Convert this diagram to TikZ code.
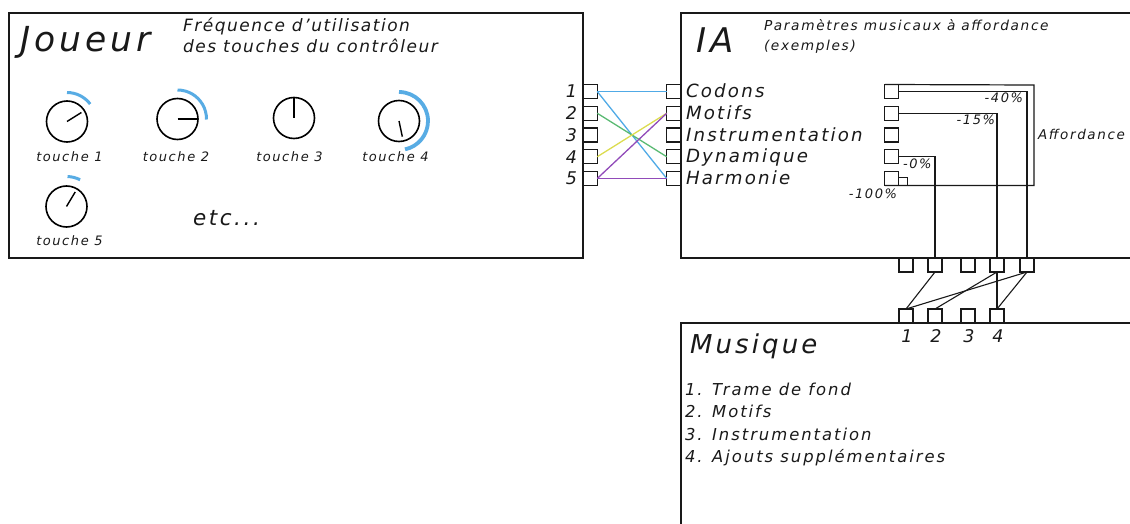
\documentclass[tikz,border=0pt]{standalone}
\usepackage{fontspec}
\newfontfamily\vf{DejaVu Sans Oblique}[LetterSpace=12]
\newfontfamily\vfn{DejaVu Sans Oblique}[LetterSpace=9]
\definecolor{kblue}{RGB}{88,172,228}
\definecolor{cblue}{RGB}{80,170,230}
\definecolor{cgreen}{RGB}{90,186,115}
\definecolor{cyellow}{RGB}{220,220,80}
\definecolor{cpurple}{RGB}{145,75,185}
\definecolor{ink}{RGB}{25,25,25}
\tikzset{
  box/.style={draw=ink, line width=1.4pt},
  sq/.style={draw=ink, line width=1.1pt, minimum width=13.5pt, minimum height=14pt, inner sep=0pt, outer sep=0pt},
  bsq/.style={sq, minimum width=14pt},
  txt/.style={inner sep=0pt, outer sep=0pt, text=ink},
  knob/.style={draw=black, line width=1.6pt, circle, minimum size=41pt, inner sep=0pt, outer sep=0pt},
  needle/.style={line width=1.4pt, draw=black},
  arcb/.style={draw=kblue, line width=3pt},
  lk/.style={line width=1.2pt, draw=ink},
  cl/.style={line width=1.3pt},
  fB/.style={font=\vfn\fontsize{17}{20}\selectfont},
  fC/.style={font=\vf\fontsize{13}{16}\selectfont},
  fD/.style={font=\vf\fontsize{18.2}{21}\selectfont},
  fE/.style={font=\vf\fontsize{16.4}{19}\selectfont},
}
\begin{document}
\begin{tikzpicture}[x=1pt,y=-1pt]
\useasboundingbox (0,0) rectangle (1130,524);
% ---------- Joueur box
\node[box, anchor=north west, minimum width=574pt, minimum height=245pt, inner sep=0pt, outer sep=0pt] (joueur) at (9,13) {};
\node[txt, font=\vf\fontsize{34.5}{40}\selectfont, anchor=base west] (tj) at (20,52) {Joueur};
\node[txt, fB, anchor=base west] (tf1) at (183,32) {Fréquence d’utilisation};
\node[txt, fB, anchor=base west] (tf2) at (183,53) {des touches du contrôleur};
% knobs
\node[knob] (k1) at (67,121.5) {};
\node[knob] (k2) at (177.5,119) {};
\node[knob] (k3) at (294,118) {};
\node[knob] (k4) at (399,121) {};
\node[knob] (k5) at (66.5,206.5) {};
\draw[needle] (k1.center) -- ++(-32:17);
\draw[needle] (k2.center) -- ++(0:20);
\draw[needle] (k3.center) -- ++(-90:20);
\draw[needle] (k4.center) -- ++(78:16);
\draw[needle] (k5.center) -- ++(-59:17);
\draw[arcb] (k1.center) ++(-90:29) arc[start angle=-90, end angle=-37, radius=29];
\draw[arcb] (k2.center) ++(-90:29) arc[start angle=-90, end angle=1, radius=29];
\draw[arcb, line width=3.8pt] (k4.center) ++(-90:29) arc[start angle=-90, end angle=78, radius=29];
\draw[arcb] (k5.center) ++(-88:30) arc[start angle=-88, end angle=-63, radius=30];
\node[txt, fC, anchor=base] (l1) at (69.5,161) {touche 1};
\node[txt, fC, anchor=base] (l2) at (176,161) {touche 2};
\node[txt, fC, anchor=base] (l3) at (289.5,161) {touche 3};
\node[txt, fC, anchor=base] (l4) at (395.5,161) {touche 4};
\node[txt, fC, anchor=base] (l5) at (69.5,245) {touche 5};
\node[txt, font=\vf\fontsize{21.5}{24}\selectfont, anchor=base west] (etc) at (193,225) {etc...};
% ---------- IA box
\coordinate (iaTR) at (1131,13);
\coordinate (iaBR) at (1131,258);
\draw[box] (iaTR) -- (681,13) coordinate (iaTL) -- (681,258) coordinate (iaBL) -- (iaBR);
\node[txt, font=\vf\fontsize{34}{38}\selectfont, anchor=base west] (tia) at (696,53) {IA};
\node[txt, font=\vf\fontsize{13.7}{16}\selectfont, anchor=base west] (tp1) at (764,31) {Paramètres musicaux à affordance};
\node[txt, font=\vf\fontsize{13.7}{16}\selectfont, anchor=base west] (tp2) at (764,51) {(exemples)};
% ---------- Musique box
\coordinate (muTR) at (1131,323);
\coordinate (muBL) at (681,526);
\draw[box] (muTR) -- (681,323) coordinate (muTL) -- (muBL);
\node[txt, font=\vf\fontsize{26}{30}\selectfont, anchor=base west] (tm) at (690,353) {Musique};
\node[txt, fE, anchor=base west] (m1t) at (685,395) {1. Trame de fond};
\node[txt, fE, anchor=base west] (m2t) at (685,417) {2. Motifs};
\node[txt, fE, anchor=base west] (m3t) at (685,440) {3. Instrumentation};
\node[txt, fE, anchor=base west] (m4t) at (685,462) {4. Ajouts supplémentaires};
% ---------- squares
\foreach \i/\y in {1/91.5,2/113.25,3/135,4/156.75,5/178.5}{
  \node[sq] (j\i) at (590.5,\y) {};
  \node[sq] (c\i) at (673.5,\y) {};
  \node[sq] (s\i) at (891.5,\y) {};
  \node[txt, font=\vf\fontsize{17.5}{20}\selectfont, anchor=base east] (jn\i) at (577,\y+6.5) {\i};
}
\node[txt, fD, anchor=base west] (cn1) at (686,98) {Codons};
\node[txt, fD, anchor=base west] (cn2) at (686,120) {Motifs};
\node[txt, fD, anchor=base west] (cn3) at (686,142) {Instrumentation};
\node[txt, fD, anchor=base west] (cn4) at (686,163) {Dynamique};
\node[txt, fD, anchor=base west] (cn5) at (686,185) {Harmonie};
% coloured links
\draw[cl, cblue] (j1.east) -- (c1.west);
\draw[cl, cblue] (j1.east) -- (c5.west);
\draw[cl, cgreen] (j2.east) -- (c4.west);
\draw[cl, cyellow] (j4.east) -- (c2.west);
\draw[cl, cpurple] (j5.east) -- (c2.west);
\draw[cl, cpurple] (j5.east) -- (c5.west);
% bottom squares
\foreach \i/\x in {1/906,2/935,3/968,4/997,5/1027}{
  \node[bsq] (a\i) at (\x,265) {};
}
\foreach \i/\x in {1/906,2/935,3/968,4/997}{
  \node[bsq] (b\i) at (\x,316) {};
  \node[txt, font=\vf\fontsize{17.5}{20}\selectfont, anchor=base] (bn\i) at (\x+1,342) {\i};
}
% affordance frame
\coordinate (afTR) at (1034,85);
\coordinate (afBR) at (1034,185.5);
\draw[lk] (s1.north west) -- (afTR) -- (afBR) -- (s5.south west);
\draw[lk] (s1.east) -- (s1.east -| a5.north) -- (a5.north);
\draw[lk] (s2.east) -- (s2.east -| a4.north) -- (a4.north);
\draw[lk] (s4.east) -- (s4.east -| a2.north) -- (a2.north);
\node[sq, minimum width=9pt, minimum height=8pt, anchor=south west] (s0) at (s5.south east) {};
\node[txt, fC, anchor=base east] (p40) at (1023,103) {-40\%};
\node[txt, fC, anchor=base east] (p15) at (995,125) {-15\%};
\node[txt, fC, anchor=base west] (p0) at (903,168) {-0\%};
\node[txt, fC, anchor=base east] (p100) at (897,198) {-100\%};
\node[txt, font=\vf\fontsize{13.5}{16}\selectfont, anchor=base west] (aff) at (1038,140) {Affordance};
% IA -> Musique links
\draw[lk, line width=1.1pt] (a2.south) -- (b1.north);
\draw[lk, line width=1.1pt] (a4.south) -- (b2.north);
\draw[lk, line width=1.1pt] (a4.south) -- (b4.north);
\draw[lk, line width=1.1pt] (a5.south) -- (b1.north);
\draw[lk, line width=1.1pt] (a5.south) -- (b4.north);
\end{tikzpicture}
\end{document}
